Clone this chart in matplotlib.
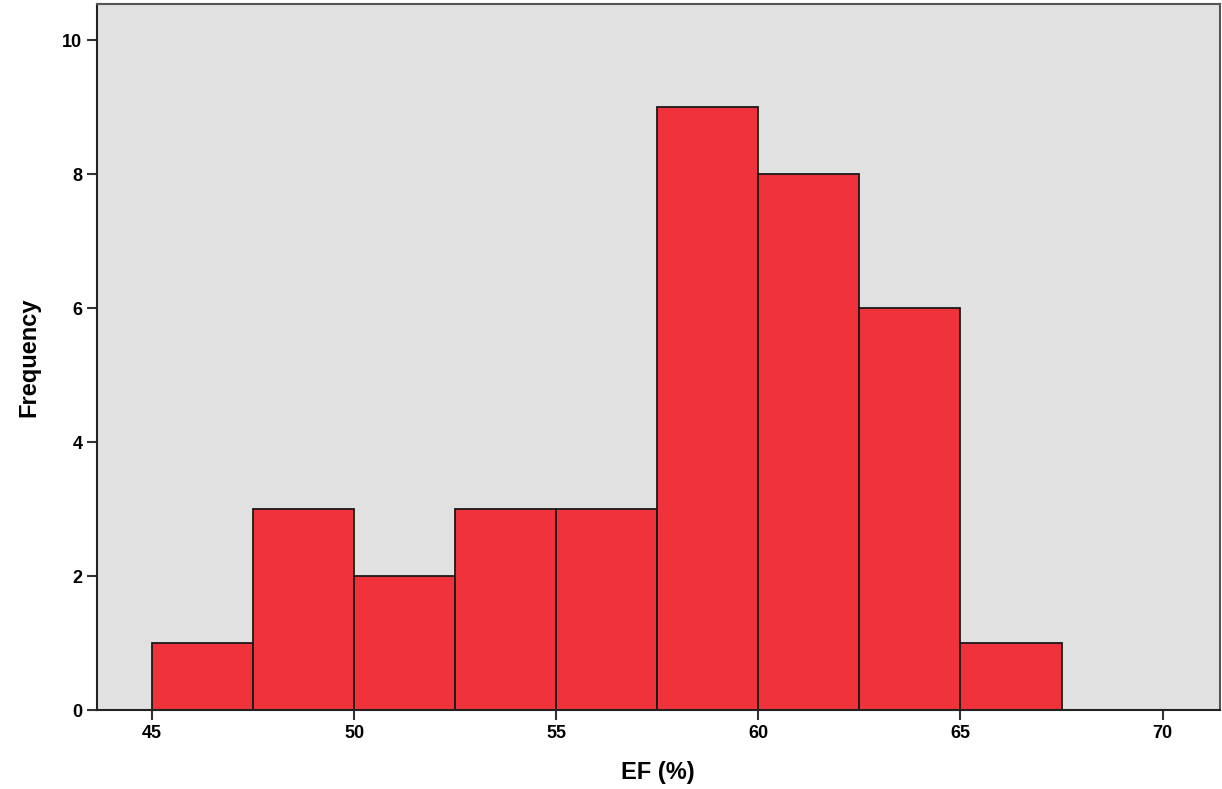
import numpy as np
import matplotlib.pyplot as plt

# histogram of EF (%), bins of width 2.5
bin_edges = [45, 47.5, 50, 52.5, 55, 57.5, 60, 62.5, 65, 67.5]
counts = [1, 3, 2, 3, 3, 9, 8, 6, 1]
x_ticks = [45, 50, 55, 60, 65, 70]
y_ticks = [0, 2, 4, 6, 8, 10]

plt.rcParams['font.family'] = ['Liberation Sans', 'DejaVu Sans']
plt.rcParams['font.weight'] = 'bold'

fig = plt.figure(figsize=(12.22, 7.89), dpi=100)
ax = fig.add_axes([0.0794, 0.1001, 0.9186, 0.8949])
ax.set_facecolor('#e1e1e1')

edges = np.array(bin_edges)
ax.bar(edges[:-1], counts, width=np.diff(edges), align='edge',
       color='#f0323a', edgecolor='#1a1a1a', linewidth=1.3, zorder=2)

ax.set_xlim(43.64, 71.41)
ax.set_ylim(0, 10.54)
ax.set_xticks(x_ticks)
ax.set_yticks(y_ticks)
ax.tick_params(axis='both', direction='out', length=7, width=1.5,
               labelsize=13, color='#333333')
for lab in ax.get_xticklabels() + ax.get_yticklabels():
    lab.set_fontweight('bold')

for side in ['left', 'bottom']:
    ax.spines[side].set_color('#222222')
    ax.spines[side].set_linewidth(1.5)
for side in ['top', 'right']:
    ax.spines[side].set_color('#555555')
    ax.spines[side].set_linewidth(1.5)

ax.set_xlabel('EF (%)', fontsize=17, fontweight='bold', labelpad=14)
ax.set_ylabel('Frequency', fontsize=17, fontweight='bold', labelpad=16)

fig.savefig('out.png', dpi=100)
